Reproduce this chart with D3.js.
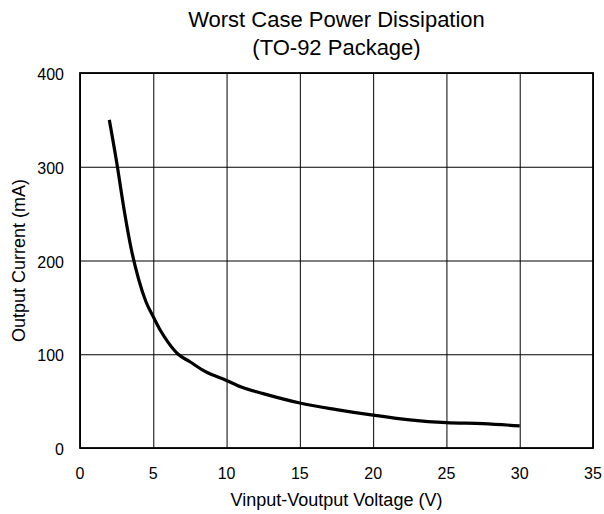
<!DOCTYPE html>
<html>
<head>
<meta charset="utf-8">
<script src="https://cdn.jsdelivr.net/npm/d3@7"></script>
<style>
  body { margin: 0; background: #fff; }
  text { font-family: "Liberation Sans", Arial, sans-serif; fill: #000; }
</style>
</head>
<body>
<div id="chart"></div>
<script>
// values
var voltage = [2, 2.5, 3, 3.5, 4, 4.5, 5, 5.5, 6, 6.7, 7.5, 8.5, 10, 11, 12.5, 15, 17.5, 20, 22.5, 25, 27.5, 30];
var current = [350, 305, 255, 212, 180, 156, 140, 125, 113, 100, 92, 82, 72, 65, 58, 48, 41, 35, 30, 27, 26, 23.5];
var xTicks = [0, 5, 10, 15, 20, 25, 30, 35];
var yTicks = [0, 100, 200, 300, 400];
var titleLines = ["Worst Case Power Dissipation", "(TO-92 Package)"];

var width = 604, height = 514;
var margin = {top: 73, right: 11, bottom: 66, left: 80};

var svg = d3.select("#chart").append("svg")
  .attr("width", width).attr("height", height);

var x = d3.scaleLinear().domain([0, 35]).range([margin.left, width - margin.right]);
var y = d3.scaleLinear().domain([0, 400]).range([height - margin.bottom, margin.top]);

// grid
svg.append("g")
  .attr("transform", "translate(0," + y(0) + ")")
  .call(d3.axisBottom(x).tickValues(xTicks).tickSize(-(y(0) - y(400))).tickFormat(""))
  .call(function(g){ g.select(".domain").remove(); })
  .selectAll("line").attr("stroke", "#000").attr("stroke-width", 1);

svg.append("g")
  .attr("transform", "translate(" + x(0) + ",0)")
  .call(d3.axisLeft(y).tickValues(yTicks).tickSize(-(x(35) - x(0))).tickFormat(""))
  .call(function(g){ g.select(".domain").remove(); })
  .selectAll("line").attr("stroke", "#000").attr("stroke-width", 1);

// frame
svg.append("rect")
  .attr("x", x(0)).attr("y", y(400))
  .attr("width", x(35) - x(0)).attr("height", y(0) - y(400))
  .attr("fill", "none").attr("stroke", "#000").attr("stroke-width", 1.8);

// tick labels
svg.append("g").selectAll("text").data(xTicks).join("text")
  .attr("x", function(d){ return x(d); })
  .attr("y", y(0) + 31)
  .attr("text-anchor", "middle")
  .style("font-size", "16px")
  .text(function(d){ return d; });

svg.append("g").selectAll("text").data(yTicks).join("text")
  .attr("x", x(0) - 16)
  .attr("y", function(d){ return y(d) + 7; })
  .attr("text-anchor", "end")
  .style("font-size", "16px")
  .text(function(d){ return d; });

// curve
var line = d3.line()
  .x(function(d){ return x(d[0]); })
  .y(function(d){ return y(d[1]); })
  .curve(d3.curveMonotoneX);

svg.append("path")
  .datum(d3.zip(voltage, current))
  .attr("fill", "none")
  .attr("stroke", "#000")
  .attr("stroke-width", 3.2)
  .attr("d", line);

// titles
svg.append("g").selectAll("text").data(titleLines).join("text")
  .attr("x", (x(0) + x(35)) / 2)
  .attr("y", function(d, i){ return 27 + i * 28; })
  .attr("text-anchor", "middle")
  .style("font-size", "22px")
  .text(function(d){ return d; });

svg.append("text")
  .attr("x", (x(0) + x(35)) / 2)
  .attr("y", 506)
  .attr("text-anchor", "middle")
  .style("font-size", "18px")
  .text("Vinput-Voutput Voltage (V)");

svg.append("text")
  .attr("transform", "translate(25," + (y(0) + y(400)) / 2 + ") rotate(-90)")
  .attr("text-anchor", "middle")
  .style("font-size", "18px")
  .text("Output Current (mA)");
</script>
</body>
</html>
